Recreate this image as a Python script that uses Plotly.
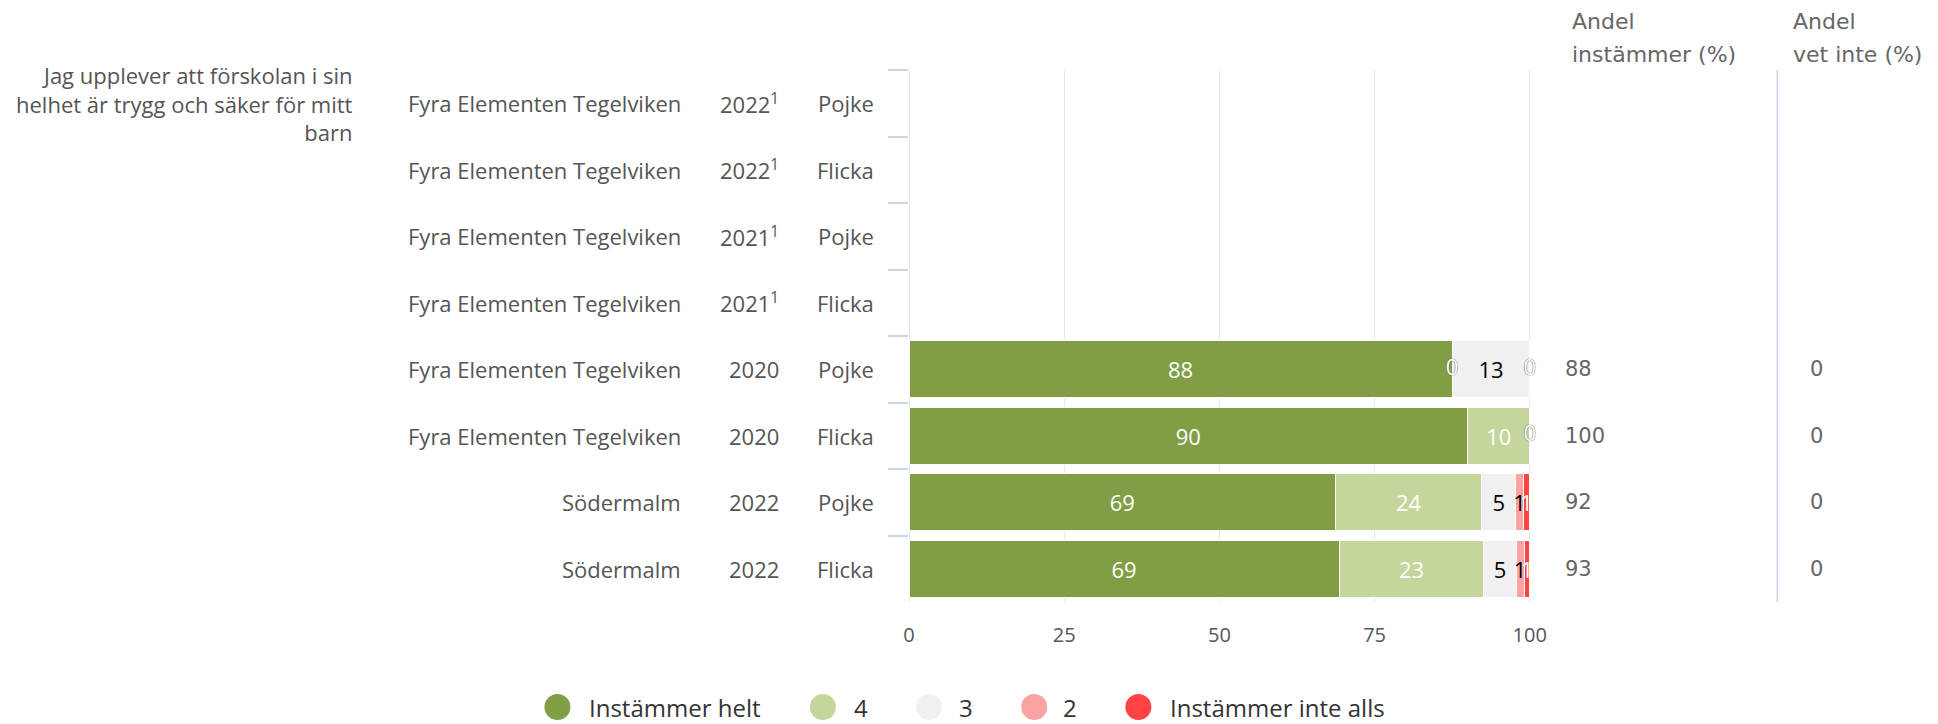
import plotly.graph_objects as go

# ---------------- data ----------------
question = "Jag upplever att förskolan i sin<br>helhet är trygg och säker för mitt<br>barn"
units = ["Fyra Elementen Tegelviken"] * 6 + ["Södermalm"] * 2
years = ["2022", "2022", "2021", "2021", "2020", "2020", "2022", "2022"]
footnote = [1, 1, 1, 1, 0, 0, 0, 0]
genders = ["Pojke", "Flicka", "Pojke", "Flicka", "Pojke", "Flicka", "Pojke", "Flicka"]

series_names = ["Instämmer helt", "4", "3", "2", "Instämmer inte alls"]
helt = [None, None, None, None, 87.5, 90.0, 68.7, 69.3]
s4 = [None, None, None, None, 0.0, 10.0, 23.6, 23.3]
s3 = [None, None, None, None, 12.5, None, 5.4, 5.2]
s2 = [None, None, None, None, None, None, 1.3, 1.3]
inte_alls = [None, None, None, None, 0.0, 0.0, 1.0, 0.9]

andel_instammer = [None, None, None, None, 88, 100, 92, 93]
andel_vet_inte = [None, None, None, None, 0, 0, 0, 0]

# ---------------- style ----------------
colors = ["#829e45", "#c4d69c", "#f0f0f0", "#f9a3a3", "#ff4242"]
label_colors = ["#ffffff", "#ffffff", "#000000", "#000000", "#ffffff"]
FONT = "Open Sans"
HFONT = "DejaVu Sans"

series_vals = [helt, s4, s3, s2, inte_alls]
cats = [f"{u} {y} {g} #{i}" for i, (u, y, g) in enumerate(zip(units, years, genders))]


def rnd(v):
    return int(v + 0.5)


fig = go.Figure()
for name, vals, col, lcol in zip(series_names, series_vals, colors, label_colors):
    txt = [str(rnd(v)) if (v is not None and v > 0) else "" for v in vals]
    fig.add_trace(go.Bar(
        y=cats, x=vals, orientation="h", name=name,
        marker=dict(color=col, line=dict(color="#ffffff", width=1)),
        text=txt, textposition="inside", insidetextanchor="middle",
        textangle=0, constraintext="none",
        textfont=dict(family=FONT, size=22, color=lcol),
        showlegend=False,
    ))

# zero-valued labels (drawn at their stacked position)
zx, zy, zt = [], [], []
for r in range(len(cats)):
    tot = sum(s[r] for s in series_vals if s[r] is not None)
    if tot == 0:
        continue
    cum = 0.0
    for s in series_vals:
        v = s[r]
        if v is None:
            continue
        if v == 0:
            zx.append(cum / tot * 100)
            zy.append(cats[r])
            zt.append("0")
        cum += v
fig.add_trace(go.Scatter(
    x=zx, y=zy, text=zt, mode="text", showlegend=False,
    textfont=dict(family=FONT, size=22, color="#ffffff",
                  shadow="0px 0px 1px #666666, 0px 0px 1px #666666"),
    cliponaxis=False,
))

# page body has an 8px margin: work in reference pixels, shift by OFF
OFF = 8
W, H = 1938 - OFF, 724 - OFF
X0, X100 = 909 - OFF, 1530 - OFF
PW = X100 - X0
TOP, BOT = 70 - OFF, 602 - OFF
PH = BOT - TOP


def px(x):
    return (x - OFF - X0) / PW


def py(y):
    return (BOT - (y - OFF)) / PH


ann = []
# question text
ann.append(dict(x=px(356), y=cats[0], xref="paper", yref="y", xanchor="right",
                yanchor="middle", align="right", text=question, showarrow=False,
                font=dict(family=FONT, size=22, color="#555555")))
for i, c in enumerate(cats):
    ann.append(dict(x=px(683), y=c, xref="paper", yref="y", xanchor="right",
                    yanchor="middle", text=units[i], showarrow=False,
                    font=dict(family=FONT, size=22, color="#555555")))
    ytxt = years[i] + ("<sup>1</sup>" if footnote[i] else "")
    ann.append(dict(x=px(781), y=c, xref="paper", yref="y", xanchor="right",
                    yanchor="middle", text=ytxt, showarrow=False,
                    font=dict(family=FONT, size=22, color="#555555")))
    ann.append(dict(x=px(876), y=c, xref="paper", yref="y", xanchor="right",
                    yanchor="middle", text=genders[i], showarrow=False,
                    font=dict(family=FONT, size=22, color="#555555")))
    if andel_instammer[i] is not None:
        ann.append(dict(x=px(1562), y=c, xref="paper", yref="y", xanchor="left",
                        yanchor="middle", text=str(andel_instammer[i]), showarrow=False,
                        font=dict(family=HFONT, size=21, color="#666666")))
    if andel_vet_inte[i] is not None:
        ann.append(dict(x=px(1815), y=c, xref="paper", yref="y", xanchor="center",
                        yanchor="middle", text=str(andel_vet_inte[i]), showarrow=False,
                        font=dict(family=HFONT, size=21, color="#666666")))

# column headers
for xl, lines in [(1570, ["Andel", "instämmer (%)"]), (1791, ["Andel", "vet inte (%)"])]:
    for ypix, t in zip([21, 54], lines):
        ann.append(dict(x=px(xl), y=py(ypix), xref="paper", yref="paper",
                        xanchor="left", yanchor="middle", text=t, showarrow=False,
                        borderpad=0,
                        font=dict(family=HFONT, size=22, color="#666666")))

shapes = [dict(type="line", xref="paper", yref="paper", x0=px(1776), x1=px(1776),
               y0=0, y1=1, line=dict(color="#ccd6eb", width=1.5))]

# legend (circle markers + labels)
leg_circle_x = [558, 823, 929, 1034, 1138]
leg_text_x = [588, 852, 957, 1061, 1168]
LEG_Y = 707
for name, col, cx, tx in zip(series_names, colors, leg_circle_x, leg_text_x):
    shapes.append(dict(type="circle", xref="paper", yref="paper",
                       xsizemode="pixel", ysizemode="pixel",
                       xanchor=px(cx), yanchor=py(LEG_Y),
                       x0=-13, x1=13, y0=-13, y1=13,
                       fillcolor=col, line=dict(width=0)))
    ann.append(dict(x=px(tx), y=py(LEG_Y), xref="paper", yref="paper",
                    xanchor="left", yanchor="middle", text=name, showarrow=False,
                    font=dict(family=FONT, size=24, color="#333333")))

fig.update_layout(
    width=W, height=H,
    margin=dict(l=X0, r=W - X0 - round(PW * 1.002), t=TOP, b=H - BOT),
    barmode="stack", barnorm="percent", bargap=0.14,
    plot_bgcolor="#ffffff", paper_bgcolor="#ffffff",
    annotations=ann, shapes=shapes,
    xaxis=dict(range=[0, 100.2], tickvals=[0, 25, 50, 75, 100],
               showgrid=True, gridcolor="#e6e6e6", gridwidth=1,
               zeroline=True, zerolinecolor="#e6e6e6", zerolinewidth=1,
               showline=False, ticks="", ticklabelstandoff=19,
               tickfont=dict(family=FONT, size=20, color="#555555")),
    yaxis=dict(type="category", range=[len(cats) - 0.5, -0.5], showticklabels=False,
               ticks="outside", ticklen=20, tickcolor="#ccd6eb", tickwidth=1.5,
               tickson="boundaries", showgrid=False, zeroline=False, showline=False),
    showlegend=False,
)

fig.write_html("out.html")
